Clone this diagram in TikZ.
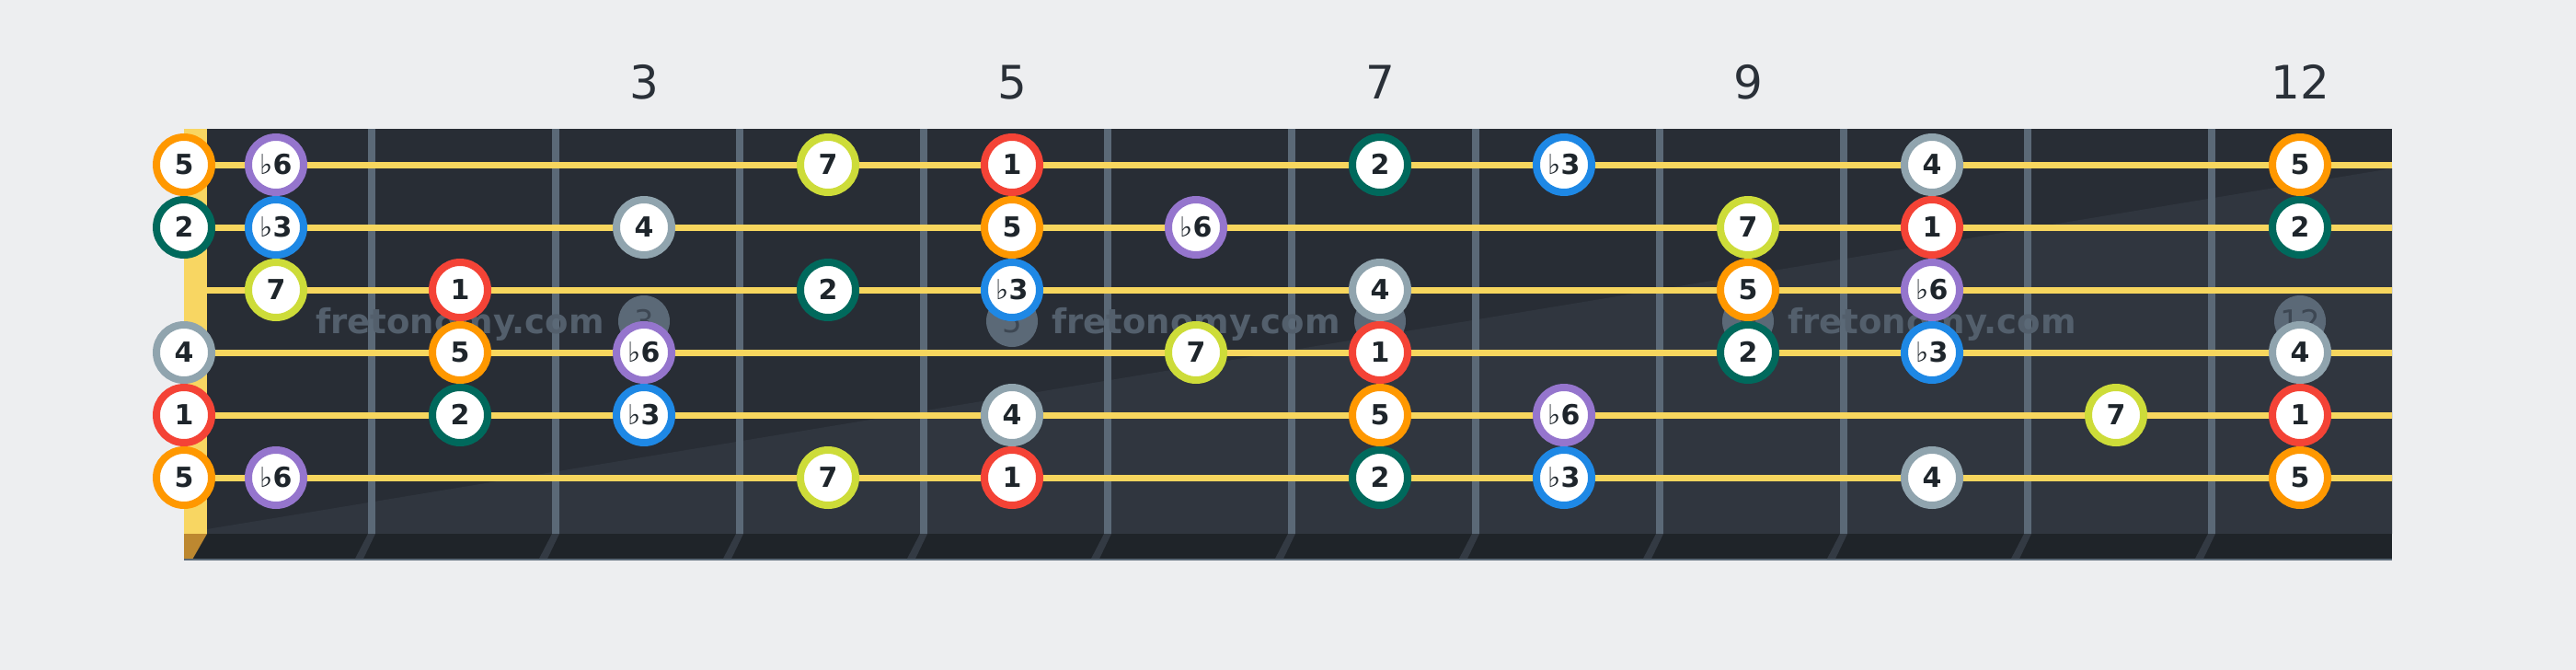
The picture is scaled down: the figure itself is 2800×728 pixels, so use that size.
\documentclass[tikz,border=0pt]{standalone}
\usepackage{fontspec}
\setmainfont{DejaVu Sans}
\definecolor{bgcol}{HTML}{EDEEF0}
\definecolor{boarddark}{HTML}{282D35}
\definecolor{boardlight}{HTML}{30363F}
\definecolor{stripcol}{HTML}{1F2429}
\definecolor{stripwire}{HTML}{333A43}
\definecolor{nutcol}{HTML}{F8D662}
\definecolor{nutlow}{HTML}{BD8830}
\definecolor{strcol}{HTML}{F7D65E}
\definecolor{wirecol}{HTML}{5B6977}
\definecolor{markertext}{HTML}{3D4753}
\definecolor{numtext}{HTML}{2A3038}
\definecolor{wmcol}{HTML}{535F6C}
\definecolor{notetext}{HTML}{1E252B}
\definecolor{cone}{HTML}{F44336}
\definecolor{ctwo}{HTML}{00695C}
\definecolor{cthree}{HTML}{1E88E5}
\definecolor{cfour}{HTML}{90A4AE}
\definecolor{cfive}{HTML}{FF9800}
\definecolor{csix}{HTML}{9575CD}
\definecolor{cseven}{HTML}{CDDC39}
\newcommand{\fl}{{\mdseries ♭}}
\begin{document}
\begin{tikzpicture}[x=1pt,y=-1pt,
  notecirc/.style={circle,draw=#1,line width=8pt,fill=white,minimum size=60pt,inner sep=0pt,
    text=notetext,font=\fontsize{30}{30}\selectfont\bfseries,text height=21.5pt,text depth=0pt},
  markercirc/.style={circle,fill=wirecol,minimum size=56pt,inner sep=0pt,
    text=markertext,font=\fontsize{34}{34}\selectfont,text height=25pt,text depth=0pt},
  fretnum/.style={text=numtext,font=\fontsize{50}{50}\selectfont,anchor=base,inner sep=0pt},
  wmark/.style={text=wmcol,font=\fontsize{37}{37}\selectfont\bfseries,anchor=base,inner sep=0pt},
  strline/.style={line width=7pt,draw=strcol},
  wireline/.style={fill=wirecol},
]
\useasboundingbox (0,0) rectangle (2800,728);
\fill[bgcol] (0,0) rectangle (2800,728);
% board
\fill[boarddark] (200,140) rectangle (2600,580);
\fill[boardlight] (225,575) -- (2600,183) -- (2600,580) -- (225,580) -- cycle;
% bottom strip
\fill[stripcol] (200,580) rectangle (2600,608);
\fill[nutlow] (200,580) -- (225,580) -- (209,608) -- (200,608) -- cycle;
\draw[wirecol,line width=1.5pt] (200,608) -- (2600,608);
% fret wires
\foreach \n in {1,...,11}{
  \pgfmathsetmacro{\xo}{200*\n+200}
  \fill[wireline] (\xo,140) rectangle (\xo+8,580);
  \fill[stripwire] (\xo,580) -- (\xo+8,580) -- (\xo-5,607) -- (\xo-14,607) -- cycle;
}
% nut
\fill[nutcol] (200,140) rectangle (225,580);
% fret numbers and markers
\foreach \f in {3,5,7,9,12}{
  \node[fretnum] (num\f) at (100+200*\f,107.7) {\f};
  \node[markercirc] (mark\f) at (100+200*\f,349) {\f};
}
% watermarks
\node[wmark] (wm1) at (500,362) {fretonomy.com};
\node[wmark] (wm2) at (1300,362) {fretonomy.com};
\node[wmark] (wm3) at (2100,362) {fretonomy.com};
% strings
\foreach \s in {1,...,6}{
  \draw[strline] (225,111+68*\s) -- (2600,111+68*\s);
}
% notes
\foreach \f/\s/\l/\c in {
  0/1/5/cfive, 1/1/\fl6/csix, 4/1/7/cseven, 5/1/1/cone, 7/1/2/ctwo, 8/1/\fl3/cthree, 10/1/4/cfour, 12/1/5/cfive,
  0/2/2/ctwo, 1/2/\fl3/cthree, 3/2/4/cfour, 5/2/5/cfive, 6/2/\fl6/csix, 9/2/7/cseven, 10/2/1/cone, 12/2/2/ctwo,
  1/3/7/cseven, 2/3/1/cone, 4/3/2/ctwo, 5/3/\fl3/cthree, 7/3/4/cfour, 9/3/5/cfive, 10/3/\fl6/csix,
  0/4/4/cfour, 2/4/5/cfive, 3/4/\fl6/csix, 6/4/7/cseven, 7/4/1/cone, 9/4/2/ctwo, 10/4/\fl3/cthree, 12/4/4/cfour,
  0/5/1/cone, 2/5/2/ctwo, 3/5/\fl3/cthree, 5/5/4/cfour, 7/5/5/cfive, 8/5/\fl6/csix, 11/5/7/cseven, 12/5/1/cone,
  0/6/5/cfive, 1/6/\fl6/csix, 4/6/7/cseven, 5/6/1/cone, 7/6/2/ctwo, 8/6/\fl3/cthree, 10/6/4/cfour, 12/6/5/cfive}{
  \pgfmathsetmacro{\xx}{ifthenelse(\f==0,200,100+200*\f)}
  \node[notecirc=\c] (n\s-\f) at (\xx,111+68*\s) {\l};
}
\end{tikzpicture}
\end{document}
